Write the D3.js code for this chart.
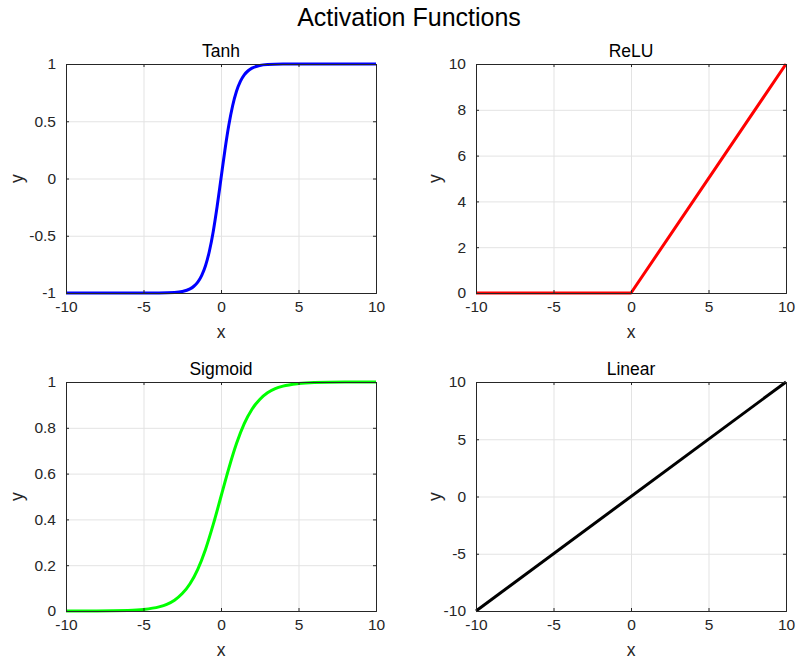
<!DOCTYPE html>
<html>
<head>
<meta charset="utf-8">
<script src="https://cdn.jsdelivr.net/npm/d3@7"></script>
<style>
  body { margin: 0; background: #fff; }
  svg { font-family: "Liberation Sans", Arial, Helvetica, sans-serif; }
</style>
</head>
<body>
<div id="chart"></div>
<script>
// values
const tanhX = [-10, -8, -6, -4, -3, -2.5, -2, -1.75, -1.5, -1.25, -1, -0.75, -0.5, -0.25, 0, 0.25, 0.5, 0.75, 1, 1.25, 1.5, 1.75, 2, 2.5, 3, 4, 6, 8, 10]
const tanhY = [-1, -1, -1, -0.999, -0.995, -0.987, -0.964, -0.941, -0.905, -0.848, -0.762, -0.635, -0.462, -0.245, 0, 0.245, 0.462, 0.635, 0.762, 0.848, 0.905, 0.941, 0.964, 0.987, 0.995, 0.999, 1, 1, 1]

const reluX = [-10, 0, 10]
const reluY = [0, 0, 10]

const sigmoidX = [-10, -8, -6, -5, -4, -3.5, -3, -2.5, -2, -1.5, -1, -0.5, 0, 0.5, 1, 1.5, 2, 2.5, 3, 3.5, 4, 5, 6, 8, 10]
const sigmoidY = [0.0001, 0.0003, 0.0025, 0.0067, 0.018, 0.029, 0.047, 0.076, 0.119, 0.182, 0.269, 0.378, 0.5, 0.622, 0.731, 0.818, 0.881, 0.924, 0.953, 0.971, 0.982, 0.993, 0.9975, 0.9997, 1]

const linearX = [-10, 10]
const linearY = [-10, 10]

const xTicks = [-10, -5, 0, 5, 10]
const tanhTicks = [-1, -0.5, 0, 0.5, 1]
const reluTicks = [0, 2, 4, 6, 8, 10]
const sigmoidTicks = [0, 0.2, 0.4, 0.6, 0.8, 1]
const linearTicks = [-10, -5, 0, 5, 10]

const panels = [
    { title: 'Tanh', xs: tanhX, ys: tanhY, yDomain: [-1, 1], yTicks: tanhTicks, color: '#0000ff', smooth: true, left: 66, top: 64 },
    { title: 'ReLU', xs: reluX, ys: reluY, yDomain: [0, 10], yTicks: reluTicks, color: '#ff0000', smooth: false, left: 476, top: 64 },
    { title: 'Sigmoid', xs: sigmoidX, ys: sigmoidY, yDomain: [0, 1], yTicks: sigmoidTicks, color: '#00ff00', smooth: true, left: 66, top: 382 },
    { title: 'Linear', xs: linearX, ys: linearY, yDomain: [-10, 10], yTicks: linearTicks, color: '#000000', smooth: false, left: 476, top: 382 },
]

const dimensions = { width: 797, height: 659, plotWidth: 310, plotHeight: 229 }
const gridColor = '#e3e3e3'
const axisColor = '#262626'

const svg = d3.select('#chart')
    .append('svg')
    .attr('width', dimensions.width)
    .attr('height', dimensions.height)

svg.append('text')
    .attr('x', 409)
    .attr('y', 26)
    .attr('text-anchor', 'middle')
    .attr('font-size', 25)
    .attr('fill', '#000')
    .text('Activation Functions')

panels.forEach(p => {
    const w = dimensions.plotWidth
    const h = dimensions.plotHeight
    const g = svg.append('g')
        .attr('transform', `translate(${p.left}, ${p.top})`)

    const xScale = d3.scaleLinear().domain([-10, 10]).range([0, w])
    const yScale = d3.scaleLinear().domain(p.yDomain).range([h, 0])

    // grid
    g.append('g')
        .attr('transform', `translate(0, ${h})`)
        .call(d3.axisBottom(xScale).tickValues(xTicks).tickSize(-h).tickFormat(''))
        .call(a => a.select('.domain').remove())
        .call(a => a.selectAll('line').attr('stroke', gridColor))
    g.append('g')
        .call(d3.axisLeft(yScale).tickValues(p.yTicks).tickSize(-w).tickFormat(''))
        .call(a => a.select('.domain').remove())
        .call(a => a.selectAll('line').attr('stroke', gridColor))

    // curve
    const line = d3.line()
        .x(d => xScale(d[0]))
        .y(d => yScale(d[1]))
        .curve(p.smooth ? d3.curveMonotoneX : d3.curveLinear)
    g.append('path')
        .datum(d3.zip(p.xs, p.ys))
        .attr('d', line)
        .attr('fill', 'none')
        .attr('stroke', p.color)
        .attr('stroke-width', 3)
        .attr('stroke-linejoin', 'round')

    // axes with inward ticks, box all round
    const axes = g.append('g')
    axes.append('g')
        .attr('transform', `translate(0, ${h})`)
        .call(d3.axisBottom(xScale).tickValues(xTicks).tickSize(-3).tickPadding(8).tickFormat(d => String(d)))
    axes.append('g')
        .call(d3.axisLeft(yScale).tickValues(p.yTicks).tickSize(-3).tickPadding(10).tickFormat(d => String(d)))
    axes.append('g')
        .call(d3.axisTop(xScale).tickValues(xTicks).tickSize(-3).tickFormat(''))
    axes.append('g')
        .attr('transform', `translate(${w}, 0)`)
        .call(d3.axisRight(yScale).tickValues(p.yTicks).tickSize(-3).tickFormat(''))

    axes.selectAll('g').attr('font-family', null).attr('font-size', null)
    axes.selectAll('.domain').attr('stroke', axisColor)
    axes.selectAll('.tick line').attr('stroke', axisColor)
    axes.selectAll('.tick text')
        .attr('fill', axisColor)
        .attr('font-size', 15.5)

    g.append('text')
        .attr('x', w / 2)
        .attr('y', -7)
        .attr('text-anchor', 'middle')
        .attr('font-size', 17.5)
        .attr('fill', '#000')
        .text(p.title)

    g.append('text')
        .attr('x', w / 2)
        .attr('y', h + 45)
        .attr('text-anchor', 'middle')
        .attr('font-size', 17.5)
        .attr('fill', axisColor)
        .text('x')

    g.append('text')
        .attr('transform', `translate(${p.left === 66 ? -43 : -35}, ${h / 2}) rotate(-90)`)
        .attr('text-anchor', 'middle')
        .attr('font-size', 17.5)
        .attr('fill', axisColor)
        .text('y')
})
</script>
</body>
</html>
